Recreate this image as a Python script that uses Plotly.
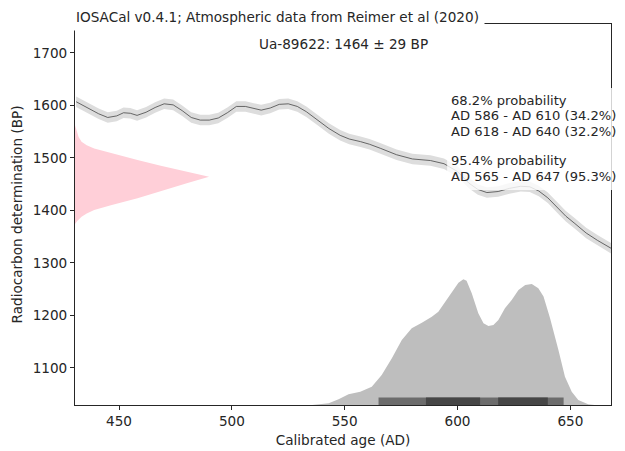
import plotly.graph_objects as go

# calibration curve (IntCal20 section)
cal_ad = [431, 436, 441, 445, 449, 452, 455, 458, 462, 466, 470, 474, 478, 482, 486, 490,
          494, 498, 502, 506, 510, 513, 517, 521, 525, 529, 533, 538, 543, 548, 552, 557,
          561, 566, 573, 580, 588, 594, 600, 605, 609, 613, 618, 623, 628, 632, 636, 640,
          645, 648, 652, 657, 662, 668]
cal_bp = [1607, 1596, 1584, 1577, 1580, 1586, 1585, 1581, 1587, 1596, 1603, 1601, 1590, 1577, 1572, 1572,
          1576, 1586, 1598, 1598, 1594, 1591, 1595, 1602, 1603, 1598, 1588, 1572, 1556, 1543, 1536, 1531,
          1526, 1518, 1506, 1498, 1495, 1489, 1474, 1452, 1440, 1434, 1436, 1442, 1446, 1445, 1437, 1424,
          1402, 1389, 1375, 1357, 1343, 1328]
cal_sigma = [10, 10, 10, 10, 10, 10, 10, 10, 10, 10, 10, 10, 10, 10, 10, 10,
             10, 10, 10, 10, 10, 10, 10, 10, 10, 10, 10, 10, 10, 10, 10, 10,
             10, 10, 10, 10, 10, 10, 10, 10, 10, 10, 10, 10, 10, 10, 10, 10,
             10, 10, 10, 10, 10, 10]

# radiocarbon determination 1464 +/- 29 BP (pink), width in years from axis
c14_bp = [1562, 1558, 1550, 1540, 1531, 1524, 1518, 1509, 1496, 1485, 1474, 1464,
          1452, 1436, 1423, 1410, 1401, 1394, 1388, 1380, 1374]
c14_w = [0, 0.3, 0.8, 1.6, 2.9, 5.2, 8.5, 15.9, 27.7, 38, 49.9, 59.4,
         49.9, 38, 27.7, 15.9, 8.5, 5.2, 2.9, 1.0, 0]

# calibrated distribution (relative density)
dist_ad = [535.6, 542.9, 547.3, 551.7, 556.9, 562, 566.4, 570.9, 575.3, 579.7, 584.2, 588.6, 591.5,
           594.5, 597.4, 600.4, 602.6, 604, 606.3, 609.2, 611.5, 613.7, 615.9, 618.1, 621, 624,
           627, 630, 632.9, 635.8, 638.1, 641, 644.7, 647.6, 650.6, 653.5, 657.9, 660.7]
dist_p = [0, 0.014, 0.045, 0.085, 0.106, 0.146, 0.239, 0.372, 0.517, 0.61, 0.655, 0.702, 0.742,
          0.822, 0.901, 0.973, 1.0, 0.989, 0.889, 0.729, 0.65, 0.628, 0.636, 0.676, 0.769, 0.835,
          0.915, 0.955, 0.963, 0.928, 0.862, 0.69, 0.438, 0.225, 0.106, 0.04, 0.006, 0]

# highest density ranges
hpd68_start = [586, 618]
hpd68_end = [610, 640]
hpd95_start = [565]
hpd95_end = [647]

title_text = 'IOSACal v0.4.1; Atmospheric data from Reimer et al (2020)'
sample_text = 'Ua-89622: 1464 ± 29 BP'
range_lines = ['68.2% probability', 'AD 586 - AD 610 (34.2%)', 'AD 618 - AD 640 (32.2%)',
               '95.4% probability', 'AD 565 - AD 647 (95.3%)']

x_min = 430.5
text_color = '#262626'
font_plot = 'DejaVu Sans'
fs = 13.6

# the page body has an 8px margin, so everything is placed 8px up and left
off = 8
fig_w, fig_h = 625, 451
# plot box in window pixels, used to place the text boxes
top_px, bottom_px, left_px, right_px = 24, 405, 74.5, 611


def py(px):
    return (bottom_px - px) / (bottom_px - top_px)


def pxx(px):
    return (px - left_px) / (right_px - left_px)


fig = go.Figure()

# pink normal curve
fig.add_trace(go.Scatter(x=[x_min + w for w in c14_w], y=c14_bp, mode='lines', line_width=0,
                         fill='toself', fillcolor='rgb(255,207,216)', hoverinfo='skip'))

# calibration curve band + line
upper = [b + s for b, s in zip(cal_bp, cal_sigma)]
lower = [b - s for b, s in zip(cal_bp, cal_sigma)]
fig.add_trace(go.Scatter(x=cal_ad + cal_ad[::-1], y=upper + lower[::-1], mode='lines', line_width=0,
                         fill='toself', fillcolor='rgb(221,221,221)', hoverinfo='skip'))
fig.add_trace(go.Scatter(x=cal_ad, y=cal_bp, mode='lines', line=dict(color='rgb(70,70,70)', width=0.8)))

# calibrated distribution
fig.add_trace(go.Scatter(x=dist_ad, y=dist_p, yaxis='y2', mode='lines', line_width=0,
                         fill='tozeroy', fillcolor='rgb(190,190,190)'))

bar_h = 0.06
for s, e in zip(hpd95_start, hpd95_end):
    fig.add_trace(go.Scatter(x=[s, s, e, e], y=[0, bar_h, bar_h, 0], yaxis='y2', mode='lines',
                             line_width=0, fill='toself', fillcolor='rgb(108,108,108)'))
for s, e in zip(hpd68_start, hpd68_end):
    fig.add_trace(go.Scatter(x=[s, s, e, e], y=[0, bar_h, bar_h, 0], yaxis='y2', mode='lines',
                             line_width=0, fill='toself', fillcolor='rgb(70,70,70)'))

fig.update_layout(autosize=False, width=fig_w, height=fig_h, showlegend=False,
                  margin=dict(l=left_px - off, r=fig_w - (right_px - off), t=top_px - off,
                              b=fig_h - (bottom_px - off)),
                  plot_bgcolor='white', paper_bgcolor='white',
                  font=dict(family=font_plot, size=fs, color=text_color))
fig.update_xaxes(range=[x_min, 668], tickvals=[450, 500, 550, 600, 650], showgrid=False, zeroline=False,
                 showline=True, linecolor=text_color, linewidth=1, mirror=True, automargin=False,
                 ticks='outside', ticklen=4, tickcolor=text_color, tickfont_size=fs,
                 title=dict(text='Calibrated age (AD)', standoff=7, font_size=fs))
fig.update_yaxes(range=[1029.5, 1755], tickvals=[1100, 1200, 1300, 1400, 1500, 1600, 1700],
                 showgrid=False, zeroline=False, automargin=False,
                 showline=True, linecolor=text_color, linewidth=1, mirror=True,
                 ticks='outside', ticklen=4, tickcolor=text_color, tickfont_size=fs,
                 title=dict(text='Radiocarbon determination (BP)', standoff=6, font_size=fs))
fig.update_layout(yaxis2=dict(overlaying='y', range=[0, 3.03], visible=False))

fig.add_annotation(text=title_text, xref='paper', yref='paper', x=0, y=py(17), xanchor='left',
                   yanchor='middle', showarrow=False, bgcolor='white', borderpad=5, xshift=-5,
                   font=dict(size=fs, color=text_color))
fig.add_annotation(text=sample_text, xref='paper', yref='paper', x=0.5, y=py(44), xanchor='center',
                   yanchor='middle', showarrow=False, font=dict(size=fs, color=text_color))

# semi transparent box behind the ranges
fig.add_shape(type='rect', xref='paper', yref='paper', x0=pxx(447), x1=pxx(626), y0=py(190), y1=py(88),
              fillcolor='rgba(255,255,255,0.8)', line_width=0, layer='above')
line_y = [100, 115.5, 131, 161, 176.5]
for txt, yy in zip(range_lines, line_y):
    fig.add_annotation(text=txt, xref='paper', yref='paper', x=pxx(450), y=py(yy), xanchor='left',
                       yanchor='middle', showarrow=False, borderpad=0, font=dict(size=13.1, color=text_color))

fig.write_html('out.html')
